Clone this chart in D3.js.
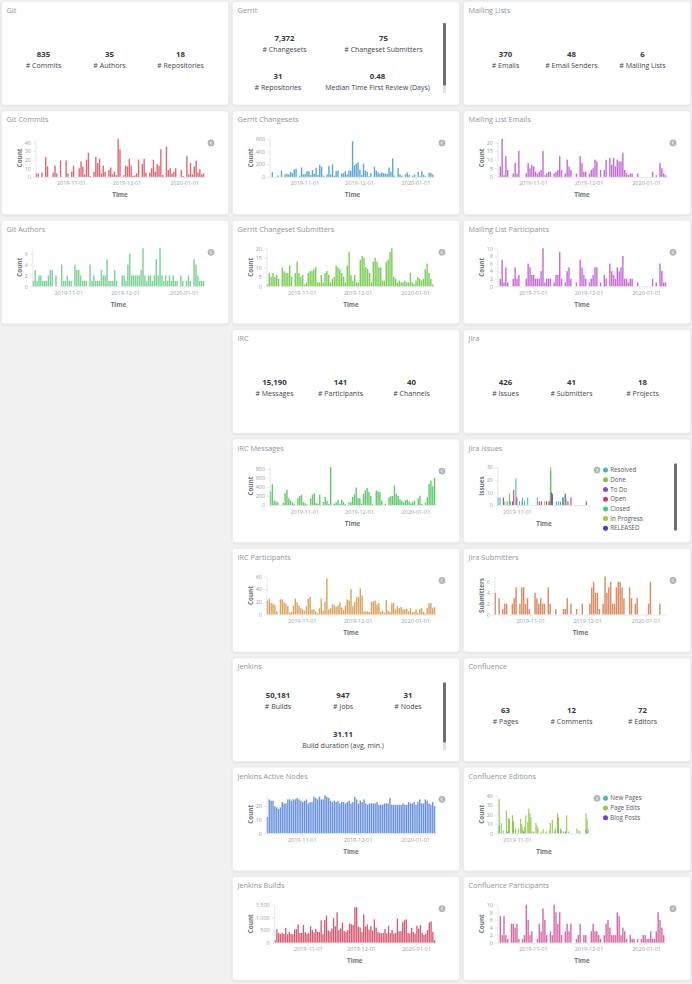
<!DOCTYPE html>
<html>
<head>
<meta charset="utf-8">
<script src="https://cdn.jsdelivr.net/npm/d3@7"></script>
<style>
  body { margin: 0; background: #f1f1f1; }
  svg { display: block; font-family: "Open Sans", sans-serif; }
  .ptitle { font-size: 7.3px; fill: #8d949e; }
  .mval { font-size: 7.8px; font-weight: 700; fill: #343741; text-anchor: middle; }
  .mlab { font-size: 7px; fill: #3f4450; text-anchor: middle; }
  .axis text { font-size: 5.5px; fill: #9aa1ab; font-family: "Open Sans", sans-serif; }
  .axis path, .axis line { stroke: #d3d6da; stroke-width: 0.6; }
  .atitle { font-size: 6.3px; font-weight: 700; fill: #6f7682; text-anchor: middle; }
  .legend text { font-size: 6.2px; fill: #535966; }
</style>
</head>
<body>
<svg id="dash" width="692" height="984"></svg>
<script>
// ---------- data ----------
// 91 daily buckets, 2019-10-13 .. 2020-01-11
var xTickLabels = ["2019-11-01", "2019-12-01", "2020-01-01"]
var xTickLabelsNarrow = ["2019-11-01"]

var gitMetricValues = [835, 35, 18]
var gitMetricLabels = ["# Commits", "# Authors", "# Repositories"]
var gerritMetricValues = [7372, 75, 31, 0.48]
var gerritMetricLabels = ["# Changesets", "# Changeset Submitters", "# Repositories", "Median Time First Review (Days)"]
var mlMetricValues = [370, 48, 6]
var mlMetricLabels = ["# Emails", "# Email Senders", "# Mailing Lists"]
var ircMetricValues = [15190, 141, 40]
var ircMetricLabels = ["# Messages", "# Participants", "# Channels"]
var jiraMetricValues = [426, 41, 18]
var jiraMetricLabels = ["# Issues", "# Submitters", "# Projects"]
var jenkinsMetricValues = [50181, 947, 31, 31.11]
var jenkinsMetricLabels = ["# Builds", "# Jobs", "# Nodes", "Build duration (avg, min.)"]
var confMetricValues = [63, 12, 72]
var confMetricLabels = ["# Pages", "# Comments", "# Editors"]

var gitCommits = [4,4,0,5,0,23,12,0,0,5, 13,4,0,19,0,0,19,4,0,6, 13,0,0,10,18,12,3,20,28,1,
  0,6,23,16,21,4,13,6,0,8, 11,3,6,2,44,32,0,2,13,12, 21,13,1,2,4,20,0,15,21,5,
  0,5,10,20,6,15,13,32,2,0, 35,8,10,4,6,10,0,0,8,1, 0,24,3,16,3,12,19,5,9,3,4]
var gitCommitsTicks = [0, 10, 20, 30, 40]

var gitAuthors = [1,3,1,2,2,1,1,1,2,3, 3,0,2,0,0,4,1,1,2,1, 1,0,4,3,3,2,1,1,1,0,
  4,1,2,1,1,1,3,2,2,5, 1,1,1,3,1,0,0,2,2,1, 4,6,2,2,2,2,2,3,7,2,
  1,2,2,1,2,5,2,7,2,1, 2,1,2,1,2,1,1,0,2,1, 0,1,2,1,0,5,4,2,1,1,1]
var gitAuthorsTicks = [0, 2, 4, 6]

var gerritChangesets = [0,75,0,0,25,0,100,0,40,50, 40,80,60,120,130,0,20,150,40,50,
  90,90,30,110,50,145,30,190,160,20, 0,40,170,40,200,20,90,100,0,50,
  60,90,40,100,100,560,180,210,230,110, 30,210,100,80,10,60,0,160,100,70,
  50,70,60,50,50,150,80,290,20,0, 140,40,20,0,40,70,30,0,20,40, 0,80,10,90,30,10,0,70,60,40,0]
var gerritChangesetsTicks = [0, 200, 400, 600]

var gerritSubmitters = [1,7,5,7,5,6,4,0,10,8, 7,7,11,5,0,7,13,7,5,6, 1,2,7,8,8,9,10,2,2,6,
  2,7,8,6,2,4,5,11,10,9, 7,5,2,11,18,6,3,6,2,2, 14,16,15,10,9,7,2,13,15,13,
  10,10,3,3,13,14,18,20,5,4, 2,3,2,2,3,2,2,7,2,1, 3,5,4,3,4,9,12,7,4,1,0]
var gerritSubmittersTicks = [0, 5, 10, 15, 20]

var mlEmails = [0,6,22,1,12,4,0,0,2,8, 2,15,0,0,0,2,8,5,7,6, 3,2,3,4,15,1,2,3,3,0,
  2,3,4,12,4,0,2,10,6,4, 0,0,2,0,12,8,3,3,0,2, 4,5,10,9,0,4,0,4,10,0,
  11,7,11,6,10,9,9,14,4,2, 1,2,2,0,0,2,0,0,0,0, 0,0,0,3,0,1,0,8,5,2,1]
var mlEmailsTicks = [0, 5, 10, 15, 20]

var mlParticipants = [0,2,7,1,5,1,0,0,2,5, 2,3,0,0,0,2,6,5,3,3, 2,2,2,4,10,1,2,2,2,0,
  1,3,3,9,2,0,1,4,5,2, 0,0,1,0,7,5,3,2,0,1, 2,3,5,5,0,1,0,3,2,0,
  6,4,3,2,5,4,5,8,2,2, 1,2,2,0,0,1,0,0,0,0, 0,0,0,2,0,1,0,6,4,1,1]
var mlParticipantsTicks = [0, 2, 4, 6, 8, 10]

var ircMessages = [300,460,100,80,60,0,0,50,270,340, 150,100,60,30,0,150,200,230,60,40,
  20,0,150,230,260,50,30,230,0,70, 180,100,30,840,0,30,60,110,20,120,
  70,20,0,60,60,180,240,390,160,150, 30,250,330,380,290,200,20,0,320,300,
  290,100,0,30,0,170,200,200,430,250, 200,130,100,60,110,120,80,40,70,100,
  0,150,210,30,0,50,170,470,540,420,600]
var ircMessagesTicks = [0, 200, 400, 600, 800]

var ircParticipants = [22,25,18,17,15,5,0,24,24,19, 17,13,3,4,14,25,19,14,10,8,
  6,13,25,28,8,8,5,2,10,25, 6,20,57,8,10,16,15,12,14,19, 11,7,14,24,22,40,13,20,27,28,
  41,30,5,5,5,4,20,21,22,16, 18,4,6,3,23,6,4,18,18,8, 13,10,12,8,8,9,5,10,3,4,
  8,3,8,10,4,2,10,18,18,10,12]
var ircParticipantsTicks = [0, 20, 40, 60]

// Jira issues by status: [day index, count]
var jiraStatuses = ["Resolved", "Done", "To Do", "Open", "Closed", "In Progress", "RELEASED"]
var jiraResolved = [[0,6],[2,6],[9,3],[12,3],[21,3],[24,6],[26,3],[29,6],[57,3],[59,3],[61,3],[64,6]]
var jiraDone = [[11,9],[51,15]]
var jiraToDo = [[5,6],[14,3],[50,3],[52,10],[53,9]]
var jiraOpen = [[15,12],[18,6],[40,3],[42,3],[47,3],[63,6],[68,3],[71,6],[86,3]]
var jiraClosed = [[17,21],[23,3],[38,6],[51,27],[66,6]]
var jiraInProgress = [[6,3],[45,3],[49,3],[51,30]]
var jiraReleased = [[65,9]]
var jiraIssuesTicks = [0, 10, 20, 30]

var jiraSubmitters = [4,0,3,0,1,2,2,0,0,2, 3,5,0,2,5,5,2,3,1,0, 0,4,3,2,3,2,2,0,5,2,
  0,0,1,0,0,0,1,1,3,0, 2,0,0,1,0,0,2,0,0,0, 2,5,6,4,4,1,0,2,7,4,
  5,6,2,2,5,6,6,5,3,0, 0,5,3,0,2,3,0,0,0,0, 0,2,6,0,0,0,0,2,0,0,0]
var jiraSubmittersTicks = [0, 2, 4, 6]

var jenkinsNodes = [12,25,24,24,20,19,18,19,23,22, 22,25,25,24,25,25,26,25,24,23,
  24,25,22,23,23,27,26,25,27,25, 25,28,27,26,24,23,24,23,24,22, 23,23,22,23,24,22,23,27,25,22,
  24,23,25,22,21,22,22,22,22,23, 21,21,21,22,22,22,26,21,21,21, 21,21,21,22,21,21,23,22,22,23,
  21,23,25,22,22,25,24,22,21,23,20]
var jenkinsNodesTicks = [0, 10, 20]

var jenkinsBuilds = [100,530,380,350,380,350,580,330,430,350, 330,520,530,720,380,390,700,410,350,380,
  650,500,400,550,430,420,880,340,900,1070, 480,450,560,970,650,1200,500,560,800,460,
  420,500,760,730,700,1400,1400,640,600,420, 1120,640,720,520,650,480,920,600,430,380,
  370,380,540,360,670,380,500,360,380,950, 450,460,810,880,920,380,370,590,420,360,
  670,560,700,380,300,350,500,800,840,430,100]
var jenkinsBuildsTicks = [0, 500, 1000, 1500]

// Confluence editions by type: [day index, count]
var confTypes = ["New Pages", "Page Edits", "Blog Posts"]
var confNewPages = [[1,8],[9,2],[15,3],[25,2],[35,2],[59,4],[66,2],[86,4]]
var confPageEdits = [[1,36],[3,11],[5,3],[8,24],[10,16],[11,15],[14,19],[15,13],[17,5],[20,5],[22,15],[23,10],
  [24,5],[26,7],[27,19],[29,12],[30,26],[31,21],[32,17],[33,2],[37,11],[38,8],[39,5],[42,2],[44,4],[47,2],
  [50,3],[51,11],[53,14],[55,2],[56,5],[58,21],[59,17],[61,5],[62,3],[64,2],[67,19],[69,2],[77,5],[79,3],
  [80,2],[86,21],[87,15],[88,4]]
var confBlogPosts = []
var confEditionsTicks = [0, 10, 20, 30, 40]

var confParticipants = [0,7,2,7,2,1,0,5,5,4, 5,1,0,1,2,10,6,2,3,0, 0,1,5,3,9,6,2,0,3,2,
  10,8,5,8,2,0,3,5,3,5, 0,0,1,2,5,0,2,2,0,0, 3,5,3,3,2,1,0,2,5,6,
  4,2,2,2,8,7,2,4,3,1, 0,2,1,1,0,1,0,1,2,2, 1,1,3,1,1,3,8,6,4,2,0]
var confParticipantsTicks = [0, 2, 4, 6, 8, 10]

// ---------- layout ----------
var colX = [1.5, 232.5, 463.5]
var panelW = 227, panelH = 103.5, rowY0 = 1.5, rowStep = 109.4
var dayStart = new Date(2019, 9, 13), dayEnd = new Date(2020, 0, 12)
var days = d3.timeDay.range(dayStart, dayEnd)
var parseDay = d3.timeParse("%Y-%m-%d")
var fmtDay = d3.timeFormat("%Y-%m-%d")

var jiraColors = ["#3fbdb1", "#84c444", "#8a4cd6", "#d2397a", "#3fc88c", "#b4c236", "#4a38cf"]
var confColors = ["#3fbdb1", "#95c84e", "#7a3fd6"]

var svg = d3.select("#dash")
var defs = svg.append("defs")
defs.append("filter").attr("id", "sh").attr("x", "-5%").attr("y", "-5%").attr("width", "110%").attr("height", "115%")
  .append("feDropShadow").attr("dx", 0).attr("dy", 0.6).attr("stdDeviation", 0.8)
  .attr("flood-color", "#000").attr("flood-opacity", 0.12)

function fmtValue(v) {
  return Number.isInteger(v) ? d3.format(",")(v) : d3.format(".2f")(v)
}

function panel(col, row, title) {
  var g = svg.append("g").attr("transform", "translate(" + colX[col] + "," + (rowY0 + row * rowStep) + ")")
  g.append("rect").attr("width", panelW).attr("height", panelH).attr("rx", 3)
    .attr("fill", "#fff").attr("stroke", "#e4e6e9").attr("stroke-width", 0.5).attr("filter", "url(#sh)")
  g.append("text").attr("class", "ptitle").attr("x", 5).attr("y", 11.5).text(title)
  return g
}

// metric tiles: pos = [x, number baseline]
function metrics(g, values, labels, pos) {
  values.forEach(function (v, i) {
    g.append("text").attr("class", "mval").attr("x", pos[i][0]).attr("y", pos[i][1]).text(fmtValue(v))
    g.append("text").attr("class", "mlab").attr("x", pos[i][0]).attr("y", pos[i][1] + 11.3).text(labels[i])
  })
}

function scrollbar(g, y0, y1, thumbEnd) {
  g.append("rect").attr("x", 210.5).attr("y", y0).attr("width", 3).attr("height", y1 - y0).attr("fill", "#e2e2e2")
  g.append("rect").attr("x", 210.5).attr("y", y0).attr("width", 3).attr("height", thumbEnd - y0).attr("rx", 1)
    .attr("fill", "#6e6e6e")
}

var threePos = [[42, 55], [108, 55], [179, 55]]

function barChart(g, o) {
  var right = o.narrow ? 127 : 203, top = 28, bottom = 66
  var series = o.series || [{ values: o.values, color: o.color }]
  var yMax = d3.max(o.yTicks)
  series.forEach(function (s) {
    var m = s.pairs ? d3.max(s.pairs, function (p) { return p[1] }) : d3.max(s.values)
    if (m > yMax) yMax = m
  })
  var y = d3.scaleLinear().domain([0, yMax]).range([bottom, top])

  var yg = g.append("g").attr("class", "axis")
    .call(d3.axisLeft(y).tickValues(o.yTicks).tickFormat(d3.format(",")).tickSize(2.5).tickPadding(2).tickSizeOuter(0))
  var labelW = 0
  yg.selectAll("text").each(function () { labelW = Math.max(labelW, this.getComputedTextLength()) })
  var left = 27.7 + labelW
  yg.attr("transform", "translate(" + left + ",0)")

  var x = d3.scaleTime().domain([dayStart, dayEnd]).range([left, right])
  var dayW = (right - left) / days.length

  if (o.series) {
    // first series drawn last so it stays on top
    series.slice().reverse().forEach(function (s) {
      var k = series.indexOf(s)
      g.append("g").selectAll("rect").data(s.pairs).join("rect")
        .attr("x", function (p) { return x(days[p[0]]) + k * 0.12 })
        .attr("width", 1.1)
        .attr("y", function (p) { return y(p[1]) })
        .attr("height", function (p) { return bottom - y(p[1]) })
        .attr("fill", s.color)
    })
  } else {
    g.append("g").selectAll("rect").data(o.values).join("rect")
      .attr("x", function (d, i) { return x(days[i]) + dayW * 0.12 })
      .attr("width", dayW * 0.76)
      .attr("y", function (d) { return y(d) })
      .attr("height", function (d) { return bottom - y(d) })
      .attr("fill", o.color)
  }

  var ticks = (o.narrow ? xTickLabelsNarrow : xTickLabels).map(parseDay)
  g.append("g").attr("class", "axis").attr("transform", "translate(0," + bottom + ")")
    .call(d3.axisBottom(x).tickValues(ticks).tickFormat(fmtDay).tickSize(2.5).tickPadding(2.2).tickSizeOuter(0))
  yg.raise()

  g.append("text").attr("class", "atitle").attr("x", (left + right) / 2).attr("y", 86.5).text("Time")
  g.append("text").attr("class", "atitle")
    .attr("transform", "translate(18.5," + ((top + bottom) / 2) + ") rotate(-90)")
    .attr("dy", "0.35em").text(o.yLabel || "Count")

  // legend toggle icon
  var ic = g.append("g").attr("transform", "translate(" + (right + 6.5) + "," + (o.narrow ? 31 : 32) + ")")
  ic.append("circle").attr("r", 3.4).attr("fill", "#b2b5ba")
  ic.append("path").attr("d", o.narrow ? "M-0.7,-1.6L0.9,0L-0.7,1.6" : "M0.7,-1.6L-0.9,0L0.7,1.6")
    .attr("fill", "none").attr("stroke", "#fff").attr("stroke-width", 0.9)

  if (o.narrow) {
    var lg = g.append("g").attr("class", "legend")
    series.forEach(function (s, k) {
      var yy = 31 + k * 9.7
      lg.append("circle").attr("cx", 142).attr("cy", yy).attr("r", 2.5).attr("fill", s.color)
      lg.append("text").attr("x", 146.8).attr("y", yy + 2.2).text(s.name)
    })
  }
}

// ---------- row 1: metric tiles ----------
metrics(panel(0, 0, "Git"), gitMetricValues, gitMetricLabels, threePos)
var gGerrit = panel(1, 0, "Gerrit")
metrics(gGerrit, gerritMetricValues, gerritMetricLabels, [[52, 39], [151, 39], [45.5, 77], [145, 77]])
scrollbar(gGerrit, 21.5, 91.5, 84)
metrics(panel(2, 0, "Mailing Lists"), mlMetricValues, mlMetricLabels, threePos)

// ---------- rows 2-3 ----------
barChart(panel(0, 1, "Git Commits"), { values: gitCommits, color: "#dc6a74", yTicks: gitCommitsTicks })
barChart(panel(1, 1, "Gerrit Changesets"), { values: gerritChangesets, color: "#5aa7da", yTicks: gerritChangesetsTicks })
barChart(panel(2, 1, "Mailing List Emails"), { values: mlEmails, color: "#c66bd6", yTicks: mlEmailsTicks })
barChart(panel(0, 2, "Git Authors"), { values: gitAuthors, color: "#7dd396", yTicks: gitAuthorsTicks })
barChart(panel(1, 2, "Gerrit Changeset Submitters"), { values: gerritSubmitters, color: "#7dcd58", yTicks: gerritSubmittersTicks })
barChart(panel(2, 2, "Mailing List Participants"), { values: mlParticipants, color: "#c66bd6", yTicks: mlParticipantsTicks })

// ---------- IRC / Jira ----------
metrics(panel(1, 3, "IRC"), ircMetricValues, ircMetricLabels, threePos)
metrics(panel(2, 3, "Jira"), jiraMetricValues, jiraMetricLabels, threePos)
barChart(panel(1, 4, "IRC Messages"), { values: ircMessages, color: "#5fcb69", yTicks: ircMessagesTicks })
var gJira = panel(2, 4, "Jira Issues")
var jiraSeries = [jiraResolved, jiraDone, jiraToDo, jiraOpen, jiraClosed, jiraInProgress, jiraReleased]
barChart(gJira, {
  narrow: true, yLabel: "Issues", yTicks: jiraIssuesTicks,
  series: jiraSeries.map(function (p, k) { return { name: jiraStatuses[k], pairs: p, color: jiraColors[k] } })
})
scrollbar(gJira, 24.5, 91.5, 91.5)
barChart(panel(1, 5, "IRC Participants"), { values: ircParticipants, color: "#d9a55f", yTicks: ircParticipantsTicks })
barChart(panel(2, 5, "Jira Submitters"), { values: jiraSubmitters, color: "#d98a62", yTicks: jiraSubmittersTicks, yLabel: "Submitters" })

// ---------- Jenkins / Confluence ----------
var gJenkins = panel(1, 6, "Jenkins")
metrics(gJenkins, jenkinsMetricValues, jenkinsMetricLabels, [[45.5, 40], [110.5, 40], [175.5, 40], [110.5, 79]])
scrollbar(gJenkins, 24.5, 92.5, 84.5)
metrics(panel(2, 6, "Confluence"), confMetricValues, confMetricLabels, threePos)
barChart(panel(1, 7, "Jenkins Active Nodes"), { values: jenkinsNodes, color: "#6b92dc", yTicks: jenkinsNodesTicks })
var confSeries = [confNewPages, confPageEdits, confBlogPosts]
barChart(panel(2, 7, "Confluence Editions"), {
  narrow: true, yTicks: confEditionsTicks,
  series: confSeries.map(function (p, k) { return { name: confTypes[k], pairs: p, color: confColors[k] } })
})
barChart(panel(1, 8, "Jenkins Builds"), { values: jenkinsBuilds, color: "#d65a71", yTicks: jenkinsBuildsTicks })
barChart(panel(2, 8, "Confluence Participants"), { values: confParticipants, color: "#d66ba8", yTicks: confParticipantsTicks })
</script>
</body>
</html>
